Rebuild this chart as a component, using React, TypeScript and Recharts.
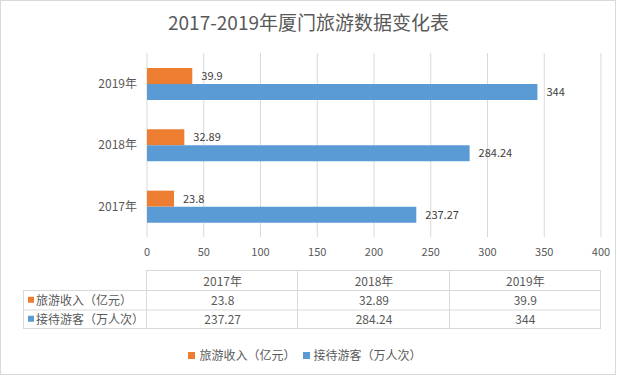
import React from "react";
import { BarChart, Bar, XAxis, YAxis, CartesianGrid, LabelList } from "recharts";

const years = ["2017年", "2018年", "2019年"];
const incomeName = "旅游收入（亿元）";
const visitorName = "接待游客（万人次）";
const income = [23.8, 32.89, 39.9];
const visitors = [237.27, 284.24, 344];
const xTicks = [0, 50, 100, 150, 200, 250, 300, 350, 400];
const title = "2017-2019年厦门旅游数据变化表";

const ORANGE = "#ED7D31";
const BLUE = "#5B9BD5";
const GRID = "#D9D9D9";
const TEXT = "#595959";
const FONT = "'Noto Sans CJK SC', 'Noto Sans', sans-serif";

const data = years.map((y, i) => ({ year: y, income: income[i], visitors: visitors[i] }));
const series = [
  { name: incomeName, color: ORANGE },
  { name: visitorName, color: BLUE },
];

const W = 617;
const H = 376;
const PLOT_L = 147;
const PLOT_R = 601;
const PLOT_T = 53;
const PLOT_B = 237;

function DataTable() {
  const colW = (PLOT_R - PLOT_L) / years.length;
  const tableL = 23;
  const rowsY = [270, 290, 309.5, 328];
  const rows = [
    { name: incomeName, color: ORANGE, values: income },
    { name: visitorName, color: BLUE, values: visitors },
  ];
  const lines: React.ReactNode[] = [];
  lines.push(<line key="h0" x1={PLOT_L} x2={PLOT_R} y1={rowsY[0] + 0.5} y2={rowsY[0] + 0.5} stroke={GRID} />);
  for (let r = 1; r < rowsY.length; r++) {
    lines.push(<line key={"h" + r} x1={tableL} x2={PLOT_R} y1={rowsY[r] + 0.5} y2={rowsY[r] + 0.5} stroke={GRID} />);
  }
  lines.push(<line key="vl" x1={tableL + 0.5} x2={tableL + 0.5} y1={rowsY[1]} y2={rowsY[3]} stroke={GRID} />);
  for (let c = 0; c <= years.length; c++) {
    const x = Math.round(PLOT_L + c * colW) - 0.5;
    lines.push(<line key={"v" + c} x1={x} x2={x} y1={rowsY[0]} y2={rowsY[3]} stroke={GRID} />);
  }
  const texts: React.ReactNode[] = [];
  years.forEach((y, c) => {
    texts.push(
      <text key={"hy" + c} x={PLOT_L + (c + 0.5) * colW} y={(rowsY[0] + rowsY[1]) / 2} textAnchor="middle" dominantBaseline="central" fontSize={12} fill={TEXT}>
        {y}
      </text>
    );
  });
  rows.forEach((row, r) => {
    const cy = (rowsY[r + 1] + rowsY[r + 2]) / 2;
    texts.push(<rect key={"sq" + r} x={28} y={cy - 3} width={6} height={6} fill={row.color} />);
    texts.push(
      <text key={"rn" + r} x={36} y={cy} dominantBaseline="central" fontSize={12} fill={TEXT}>
        {row.name}
      </text>
    );
    row.values.forEach((v, c) => {
      texts.push(
        <text key={"rv" + r + c} x={PLOT_L + (c + 0.5) * colW} y={cy} textAnchor="middle" dominantBaseline="central" fontSize={12} fill={TEXT}>
          {String(v)}
        </text>
      );
    });
  });
  return (
    <svg width={W} height={H} style={{ position: "absolute", left: 0, top: 0, pointerEvents: "none", fontFamily: FONT }}>
      {lines}
      {texts}
    </svg>
  );
}

function LegendBox() {
  return (
    <div
      style={{
        position: "absolute",
        left: 0,
        top: 346,
        width: W,
        display: "flex",
        justifyContent: "center",
        alignItems: "center",
        fontSize: 12,
        color: TEXT,
        lineHeight: "18px",
      }}
    >
      {series.map((s) => (
        <span key={s.name} style={{ display: "inline-flex", alignItems: "center", marginRight: 7 }}>
          <span style={{ display: "inline-block", width: 7, height: 7, background: s.color, marginRight: 4 }} />
          {s.name}
        </span>
      ))}
    </div>
  );
}

export default function App() {
  const yAxisWidth = 60;
  const xAxisHeight = 30;
  return (
    <div style={{ position: "absolute", left: 0, top: 0, width: W, height: H, background: "#fff", fontFamily: FONT }}>
      <BarChart
        width={W}
        height={H}
        data={data}
        layout="vertical"
        margin={{ top: PLOT_T, right: W - PLOT_R, left: PLOT_L - yAxisWidth, bottom: H - PLOT_B - xAxisHeight }}
        barGap={0}
        style={{ fontFamily: FONT }}
      >
        <CartesianGrid horizontal={false} vertical={true} stroke={GRID} strokeWidth={1} />
        <XAxis
          type="number"
          domain={[0, 400]}
          ticks={xTicks}
          axisLine={false}
          tickLine={false}
          tickSize={0}
          tickMargin={11}
          height={xAxisHeight}
          tick={{ fontSize: 11, fill: TEXT }}
          interval={0}
        />
        <YAxis
          type="category"
          dataKey="year"
          reversed
          axisLine={false}
          tickLine={false}
          tickSize={0}
          tickMargin={10}
          width={yAxisWidth}
          tick={{ fontSize: 12, fill: TEXT }}
        />
        <Bar dataKey="income" name={incomeName} fill={ORANGE} barSize={16} isAnimationActive={false}>
          <LabelList dataKey="income" position="right" offset={9} fontSize={11} fill="#404040" />
        </Bar>
        <Bar dataKey="visitors" name={visitorName} fill={BLUE} barSize={16} isAnimationActive={false}>
          <LabelList dataKey="visitors" position="right" offset={9} fontSize={11} fill="#404040" />
        </Bar>
      </BarChart>
      <DataTable />
      <LegendBox />
      <div
        style={{
          position: "absolute",
          left: 0,
          top: 10,
          width: W,
          textAlign: "center",
          fontSize: 19,
          color: TEXT,
          lineHeight: "24px",
        }}
      >
        {title}
      </div>
      <div style={{ position: "absolute", left: 0, top: 0, width: 614, height: 373, border: `1px solid ${GRID}`, pointerEvents: "none" }} />
    </div>
  );
}
